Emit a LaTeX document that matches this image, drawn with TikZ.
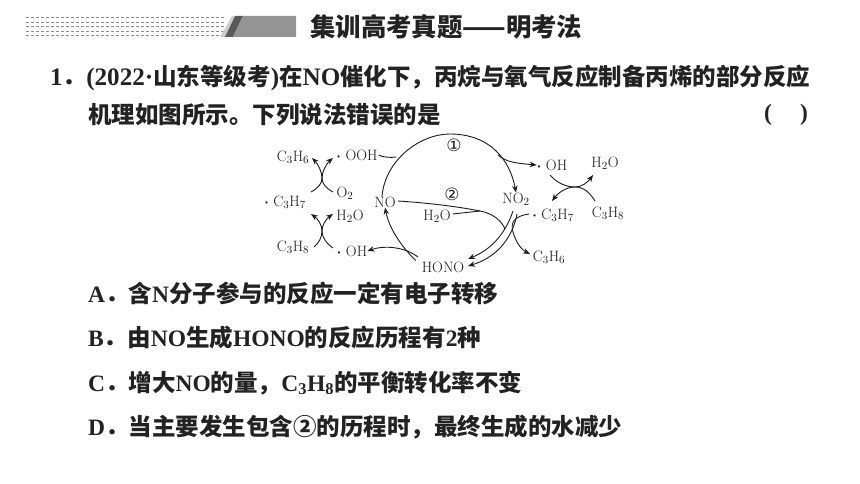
\documentclass[tikz,border=0pt]{standalone}
\usepackage{fontspec}
\usetikzlibrary{arrows.meta}
\setmainfont{Liberation Serif}
\newfontfamily\latwide[Scale=1.07]{Liberation Serif}
\newfontfamily\cjk{Noto Sans CJK SC}
\newfontfamily\lmr{Latin Modern Roman}
\newfontfamily\circfont{DejaVu Sans}
\newcommand{\hz}[1]{{\cjk #1}}
\newcommand{\rad}{{\boldmath$\cdot$}}
\definecolor{ink}{HTML}{222222}
\definecolor{inkb}{HTML}{1C1C1C}
\tikzset{
 x=1pt,y=-1pt,
 bodyt/.style={anchor=west,inner sep=0pt,text=ink,font=\fontsize{23.5}{24}\selectfont\bfseries},
 chem/.style={inner sep=0pt,text=inkb,font=\fontsize{15}{15}\lmr},
 circn/.style={inner sep=0pt,text=inkb,font=\fontsize{17}{17}\circfont},
 rxn/.style={draw=inkb,line width=0.9pt,-{Stealth[length=7pt,width=5.5pt]}},
 plain/.style={draw=inkb,line width=0.9pt},
 dashrow/.style={draw=black!45,line width=0.9pt,dash pattern=on 3.2pt off 1.8pt},
}
\begin{document}
\begin{tikzpicture}
\useasboundingbox (0,0) rectangle (860,484);
% header
\foreach \yy in {17,22,26,31,35} \draw[dashrow] (26,\yy) -- (226,\yy);
\fill[black!20] (220,37) -- (232,16) -- (235,16) -- (225,37) -- cycle;
\fill[black!65] (225,37) -- (235,16) -- (243,16) -- (233,37) -- cycle;
\fill[black!42] (233,37) -- (243,16) -- (296,16) -- (296,37) -- cycle;
\node[inner sep=0pt,anchor=west,text=ink] (title) at (310,27) {\fontsize{25.4}{26}\cjk\bfseries 集训高考真题——明考法};
% question
\node[bodyt] (l1) at (50,78) {\latwide 1\hz{．}(2022·\hz{山东等级考})\hz{在}NO\hz{催化下，丙烷与氧气反应制备丙烯的部分反应}};
\node[bodyt] (l2) at (88,115) {\hz{机理如图所示。下列说法错误的是}};
\node[bodyt] (br) at (764,115) {(\hspace{28pt})};
\node[bodyt] (A) at (88,293) {A\hz{．含}N\hz{分子参与的反应一定有电子转移}};
\node[bodyt] (B) at (88,338) {B\hz{．由}NO\hz{生成}HONO\hz{的反应历程有}2\hz{种}};
\node[bodyt] (C) at (88,383) {C\hz{．增大}NO\hz{的量，}C$_{\mathbf 3}$H$_{\mathbf 8}$\hz{的平衡转化率不变}};
\node[bodyt] (D) at (88,427) {D\hz{．当主要发生包含②的历程时，最终生成的水减少}};
% chem labels
\node[chem] (c3h6a) at (293,157) {C$_3$H$_6$};
\node[chem] (ooh) at (357,155) {\rad\ OOH};
\node[chem] (o2) at (345,193) {O$_2$};
\node[chem] (c3h7a) at (285,202) {\rad\ C$_3$H$_7$};
\node[chem] (no) at (385,202) {NO};
\node[chem] (h2oa) at (350,216) {H$_2$O};
\node[chem] (c3h8a) at (293,247) {C$_3$H$_8$};
\node[chem] (oha) at (352,251) {\rad\ OH};
\node[chem] (hono) at (443,267) {HONO};
\node[chem] (h2om) at (437,216) {H$_2$O};
\node[chem] (no2) at (516,199) {NO$_2$};
\node[chem] (ohb) at (552,165) {\rad\ OH};
\node[chem] (h2ob) at (605,163) {H$_2$O};
\node[chem] (c3h7b) at (553,215) {\rad\ C$_3$H$_7$};
\node[chem] (c3h8b) at (608,213) {C$_3$H$_8$};
\node[chem] (c3h6b) at (549,257) {C$_3$H$_6$};
\node[circn] (n1) at (454,145) {①};
\node[circn] (n2) at (452,194) {②};
% free ends
\coordinate (j1) at (396,157);
\coordinate (j2) at (498,155);
\coordinate (j3) at (480,211);
\coordinate (j4) at (418,257);
% main cycle
\draw[rxn] (no.north) ++(-3,0) .. controls (385,160) and (420,134) .. (450,134) .. controls (490,134) and (510,160) .. (no2.north);
\draw[rxn] (hono.north west) ++(-6,-1) .. controls (405,250) and (390,232) .. (no.south);
\draw[plain] (ooh.east) ++(1,0) .. controls (382,157) and (390,158) .. (j1);
\draw[rxn] (j2) .. controls (505,161) and (512,163) .. (ohb.west);
\draw[rxn] (j4) .. controls (405,247) and (385,245) .. (oha.east);
% path 2
\draw[plain] (no.east) ++(2,-1) .. controls (430,203) and (460,207) .. (j3) .. controls (495,214) and (502,222) .. (505,229);
\draw[plain] (h2om.east) ++(2,-2) -- (j3);
% double arrows
\draw[rxn] (513,211) .. controls (505,235) and (490,250) .. (468,259);
\draw[rxn] (517,214) .. controls (512,240) and (495,258) .. (468,266);
\draw[rxn] (c3h7b.west) ++(-3,-1) .. controls (515,216) and (510,222) .. (513,232) .. controls (516,243) and (522,250) .. (530,254);
% left crossings
\draw[rxn] (311,192) .. controls (318,188) and (322,184) .. (322,178) .. controls (322,172) and (318,164) .. (312,158);
\draw[rxn] (333,192) .. controls (326,188) and (322,184) .. (322,178) .. controls (322,172) and (326,164) .. (333,158);
\draw[rxn] (314,247) .. controls (319,243) and (322,237) .. (322,231) .. controls (322,225) and (318,219) .. (311,214);
\draw[rxn] (333,248) .. controls (326,243) and (322,237) .. (322,231) .. controls (322,225) and (326,219) .. (333,214);
% right crossings
\draw[rxn] (550,175) .. controls (556,182) and (565,187) .. (575,187) .. controls (582,187) and (588,182) .. (593,175);
\draw[rxn] (595,201) .. controls (590,193) and (584,187) .. (575,187) .. controls (566,187) and (558,193) .. (552,201);
\end{tikzpicture}
\end{document}
